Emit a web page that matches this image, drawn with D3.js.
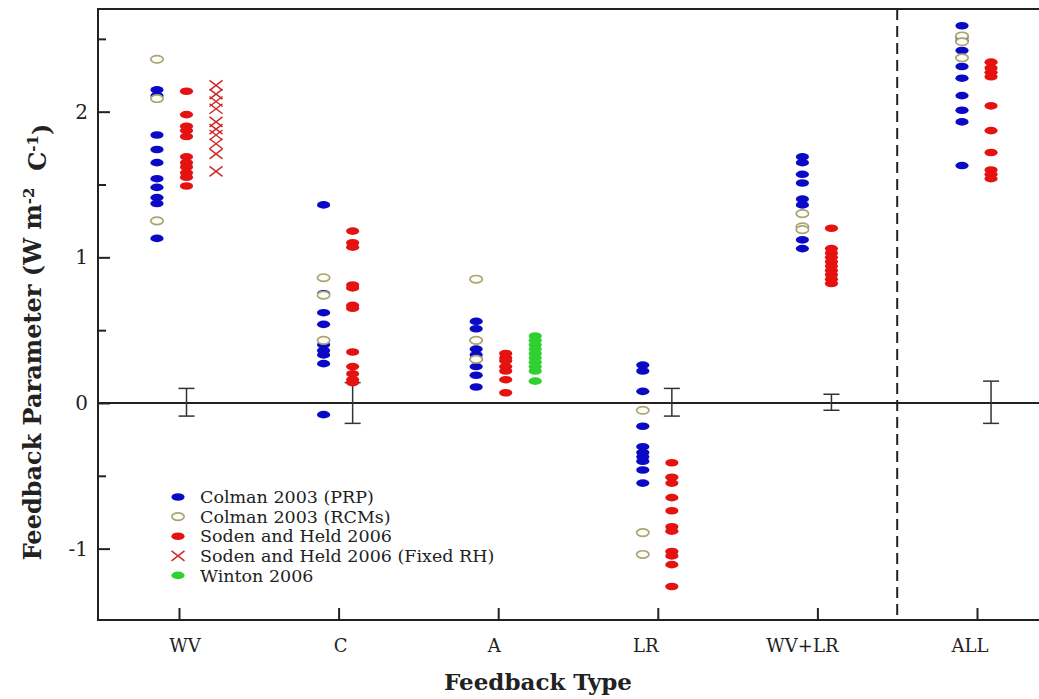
<!DOCTYPE html>
<html>
<head>
<meta charset="utf-8">
<script src="https://cdn.jsdelivr.net/npm/d3@7"></script>
<style>
  html, body { margin: 0; padding: 0; background: #fff; }
  svg { display: block; }
  text { font-family: "DejaVu Serif", "Liberation Serif", serif; fill: #222; }
</style>
</head>
<body>
<svg id="chart" width="1039" height="699"></svg>
<script>
// ---------------- DATA ----------------
const categories = ["WV", "C", "A", "LR", "WV+LR", "ALL"];
const yMajorTicks = [-1, 0, 1, 2];
const yMinorTicks = [-0.5, 0.5, 1.5, 2.5];

// values per category (same order as categories); [] = not present
const colmanPRP = [
  [2.15, 2.11, 1.84, 1.74, 1.65, 1.54, 1.48, 1.41, 1.37, 1.13],
  [1.36, 0.75, 0.62, 0.54, 0.40, 0.36, 0.33, 0.27, -0.08],
  [0.56, 0.51, 0.43, 0.37, 0.33, 0.30, 0.25, 0.19, 0.11],
  [0.26, 0.22, 0.08, -0.16, -0.30, -0.34, -0.37, -0.40, -0.46, -0.55],
  [1.69, 1.65, 1.57, 1.51, 1.40, 1.36, 1.30, 1.12, 1.06],
  [2.59, 2.51, 2.49, 2.42, 2.31, 2.23, 2.11, 2.01, 1.93, 1.63]
];
const colmanRCM = [
  [2.36, 2.09, 1.25],
  [0.86, 0.74, 0.43],
  [0.85, 0.43, 0.30],
  [-0.05, -0.89, -1.04],
  [1.30, 1.21, 1.19],
  [2.52, 2.48, 2.37]
];
const sodenHeld = [
  [2.14, 1.98, 1.90, 1.87, 1.83, 1.69, 1.65, 1.62, 1.58, 1.55, 1.49],
  [1.18, 1.10, 1.07, 0.81, 0.79, 0.67, 0.65, 0.35, 0.25, 0.20, 0.16, 0.14],
  [0.34, 0.31, 0.29, 0.25, 0.22, 0.16, 0.07],
  [-0.41, -0.51, -0.55, -0.65, -0.74, -0.85, -0.88, -1.02, -1.05, -1.11, -1.26],
  [1.20, 1.06, 1.03, 1.00, 0.97, 0.94, 0.91, 0.88, 0.85, 0.82],
  [2.34, 2.30, 2.27, 2.24, 2.04, 1.87, 1.72, 1.60, 1.57, 1.54]
];
const sodenHeldFixedRH = [
  [2.18, 2.12, 2.07, 2.02, 1.93, 1.88, 1.84, 1.78, 1.71, 1.59],
  [], [], [], [], []
];
const winton = [
  [], [],
  [0.46, 0.43, 0.40, 0.37, 0.34, 0.31, 0.28, 0.25, 0.22, 0.15],
  [], [], []
];
const errHigh = [0.10, 0.14, null, 0.10, 0.06, 0.15];
const errLow  = [-0.09, -0.14, null, -0.09, -0.05, -0.14];

const legendLabels = [
  "Colman 2003 (PRP)",
  "Colman 2003 (RCMs)",
  "Soden and Held 2006",
  "Soden and Held 2006 (Fixed RH)",
  "Winton 2006"
];

// ---------------- LAYOUT ----------------
const frame = { left: 98, top: 9, bottom: 620, right: 1039 };
const svg = d3.select("#chart");

const x = d3.scaleLinear().domain([0, 5]).range([179, 977]);
const y = d3.scaleLinear().domain([-1.49, 2.705]).range([frame.bottom, frame.top]);

// category labels are not exactly centred on the ticks in the original
const labelShift = [6, 2, -4, -12, -15, -7];

const BLUE = "#0a0ac6", RED = "#e51212", GREEN = "#2fd02f", OLIVE = "#a9a479", XRED = "#cf2a2a";

const off3 = [-0.138, 0.047, 0.232];
const off2 = [-0.094, 0.088];

const seriesList = [
  { name: "prp", data: colmanPRP, type: "dot", color: BLUE },
  { name: "rcm", data: colmanRCM, type: "open", color: OLIVE },
  { name: "sh", data: sodenHeld, type: "dot", color: RED },
  { name: "shx", data: sodenHeldFixedRH, type: "x", color: XRED },
  { name: "win", data: winton, type: "dot", color: GREEN }
];

function slot(seriesName, ci) {
  const three = sodenHeldFixedRH[ci].length > 0 || winton[ci].length > 0;
  const offs = three ? off3 : off2;
  if (seriesName === "prp" || seriesName === "rcm") return ci + offs[0];
  if (seriesName === "sh") return ci + offs[1];
  return ci + offs[2];
}

// ---------------- FRAME / AXES ----------------
const g = svg.append("g");

g.append("line")
  .attr("x1", frame.left).attr("x2", frame.right)
  .attr("y1", y(0)).attr("y2", y(0))
  .attr("stroke", "#222").attr("stroke-width", 2);

g.append("line")
  .attr("x1", x(4.5)).attr("x2", x(4.5))
  .attr("y1", frame.top).attr("y2", frame.bottom)
  .attr("stroke", "#222").attr("stroke-width", 2)
  .attr("stroke-dasharray", "11,6");

const yAxis = d3.axisRight(y).tickValues(yMajorTicks).tickSize(12).tickFormat("");
const yAxisG = g.append("g").attr("transform", `translate(${frame.left},0)`).call(yAxis);
yAxisG.select(".domain").remove();
yAxisG.selectAll(".tick line").attr("stroke", "#222").attr("stroke-width", 2);

const yMinor = d3.axisRight(y).tickValues(yMinorTicks).tickSize(8).tickFormat("");
const yMinorG = g.append("g").attr("transform", `translate(${frame.left},0)`).call(yMinor);
yMinorG.select(".domain").remove();
yMinorG.selectAll(".tick line").attr("stroke", "#222").attr("stroke-width", 2);

g.selectAll(".ylab").data(yMajorTicks).join("text")
  .attr("class", "ylab")
  .attr("x", 88).attr("y", d => y(d))
  .attr("dy", "0.35em")
  .attr("text-anchor", "end")
  .style("font-size", "20px")
  .text(d => String(d));

const xAxis = d3.axisTop(x).tickValues(d3.range(categories.length)).tickSize(12).tickFormat("");
const xAxisG = g.append("g").attr("transform", `translate(0,${frame.bottom})`).call(xAxis);
xAxisG.select(".domain").remove();
xAxisG.selectAll(".tick line").attr("stroke", "#222").attr("stroke-width", 2);

g.selectAll(".xlab").data(categories).join("text")
  .attr("class", "xlab")
  .attr("x", (d, i) => x(i) + labelShift[i]).attr("y", 652)
  .attr("text-anchor", "middle")
  .style("font-size", "18px")
  .text(d => d);

g.append("path")
  .attr("d", `M${frame.right},${frame.top} H${frame.left} V${frame.bottom} H${frame.right}`)
  .attr("fill", "none").attr("stroke", "#222").attr("stroke-width", 2);

g.append("text")
  .attr("x", 538).attr("y", 690)
  .attr("text-anchor", "middle")
  .style("font-size", "23px").style("font-weight", "bold")
  .text("Feedback Type");

const yt = g.append("text")
  .attr("transform", `translate(41,342) rotate(-90)`)
  .attr("text-anchor", "middle")
  .style("font-size", "24px").style("font-weight", "bold");
yt.append("tspan").text("Feedback Parameter (W m");
yt.append("tspan").attr("dy", "-0.5em").style("font-size", "15px").text("-2");
yt.append("tspan").attr("dy", "0.5em").text("\u00a0 C");
yt.append("tspan").attr("dy", "-0.5em").style("font-size", "15px").text("-1");
yt.append("tspan").attr("dy", "0.5em").text(")");

// ---------------- ERROR BARS ----------------
const eb = g.append("g");
categories.forEach((c, ci) => {
  if (errHigh[ci] === null) return;
  const ex = x(slot("sh", ci));
  eb.append("line").attr("x1", ex).attr("x2", ex)
    .attr("y1", y(errHigh[ci])).attr("y2", y(errLow[ci]))
    .attr("stroke", "#333").attr("stroke-width", 1.5);
  [errHigh[ci], errLow[ci]].forEach(v => {
    eb.append("line").attr("x1", ex - 8).attr("x2", ex + 8)
      .attr("y1", y(v)).attr("y2", y(v))
      .attr("stroke", "#333").attr("stroke-width", 1.5);
  });
});

// ---------------- MARKERS ----------------
function drawMarker(sel, type, color, cx, cy) {
  if (type === "dot") {
    sel.append("ellipse").attr("cx", cx).attr("cy", cy)
      .attr("rx", 6.6).attr("ry", 3.8).attr("fill", color);
  } else if (type === "open") {
    sel.append("ellipse").attr("cx", cx).attr("cy", cy)
      .attr("rx", 6.2).attr("ry", 3.7).attr("fill", "#fdfdf2")
      .attr("stroke", color).attr("stroke-width", 1.7);
  } else if (type === "x") {
    sel.append("path")
      .attr("d", `M${cx - 6.5},${cy - 5}L${cx + 6.5},${cy + 5}M${cx - 6.5},${cy + 5}L${cx + 6.5},${cy - 5}`)
      .attr("stroke", color).attr("stroke-width", 1.5).attr("fill", "none");
  }
}

const mk = g.append("g");
seriesList.forEach(s => {
  s.data.forEach((vals, ci) => {
    vals.forEach(v => drawMarker(mk, s.type, s.color, x(slot(s.name, ci)), y(v)));
  });
});

// ---------------- LEGEND ----------------
const lg = g.append("g");
const legendTypes = ["dot", "open", "dot", "x", "dot"];
const legendColors = [BLUE, OLIVE, RED, XRED, GREEN];
legendLabels.forEach((lab, i) => {
  const ly = 497 + i * 19.6;
  drawMarker(lg, legendTypes[i], legendColors[i], 178, ly);
  lg.append("text").attr("x", 200).attr("y", ly).attr("dy", "0.35em")
    .style("font-size", "17.5px").text(lab);
});
</script>
</body>
</html>
